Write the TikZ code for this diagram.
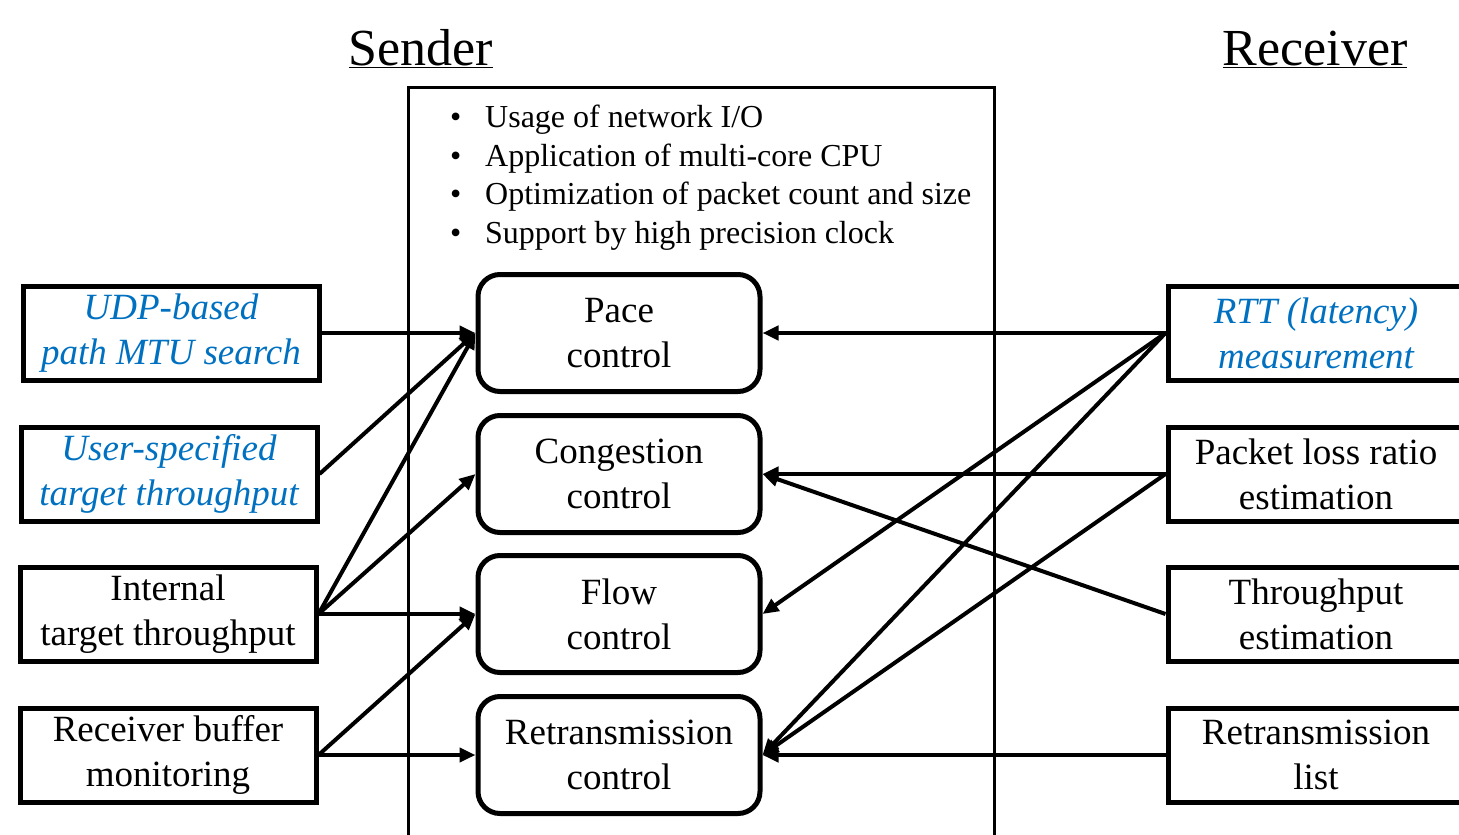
\documentclass[tikz,border=0pt]{standalone}
\usepackage{fontspec}
\setmainfont{Liberation Serif}
\usetikzlibrary{arrows.meta,positioning}
\definecolor{noteblue}{RGB}{0,112,192}
\tikzset{
  sidebox/.style={draw, line width=5pt, minimum width=296pt, minimum height=94pt,
    align=center, inner sep=0pt, font=\fontsize{37}{45}\selectfont},
  ctrlbox/.style={draw, line width=5pt, rounded corners=22pt, minimum width=282pt,
    minimum height=117pt, align=center, inner sep=0pt, font=\fontsize{37}{45}\selectfont},
  measured/.style={text=noteblue, font=\fontsize{37}{45}\selectfont\itshape},
  point/.style={anchor=west, inner sep=0pt, font=\fontsize{32}{38}\selectfont},
  heading/.style={anchor=base, inner sep=0pt, font=\fontsize{52}{60}\selectfont},
  arrow/.style={-{Triangle[length=16pt,width=14pt]}, line width=4pt},
}
\begin{document}
\begin{tikzpicture}[x=1pt,y=-1pt]
  \useasboundingbox (0,0) rectangle (1459,835);

  % headings
  \node [heading] (sender) at (421,65) {\underline{Sender}};
  \node [heading] (receiver) at (1315,65) {\underline{Receiver}};

  % sender frame
  \draw [line width=3pt] (408,87) rectangle (994,850);

  \foreach \txt [count=\i] in {Usage of network I/O, Application of multi-core CPU,
      Optimization of packet count and size, Support by high precision clock}
    \node [point] (b\i) at (485, {120+38.5*(\i-1)}) {\llap{\textbullet\hspace{24pt}}\txt};

  % control blocks
  \node [ctrlbox] (pace) at (619,333) {Pace\\control};
  \node [ctrlbox] (cong) at (619,474) {Congestion\\control};
  \node [ctrlbox] (flow) at (619,614) {Flow\\control};
  \node [ctrlbox] (retx) at (619,755) {Retransmission\\control};

  % sender side inputs
  \node [sidebox, measured] (mtu) at (171,333) {UDP-based\\path MTU search};
  \node [sidebox, measured] (user) at (169,474) {User-specified\\target throughput};
  \node [sidebox] (internal) at (168,614) {Internal\\target throughput};
  \node [sidebox] (rbuf) at (168,755) {Receiver buffer\\monitoring};

  % receiver side inputs
  \node [sidebox, measured] (rtt) at (1316,333) {RTT (latency)\\measurement};
  \node [sidebox] (loss) at (1316,474) {Packet loss ratio\\estimation};
  \node [sidebox] (thru) at (1316,614) {Throughput\\estimation};
  \node [sidebox] (rlist) at (1316,755) {Retransmission\\list};

  % sender connections
  \draw [arrow] (mtu.east) -- (pace.west);
  \draw [arrow] (user.east) -- (pace.west);
  \draw [arrow] (internal.east) -- (pace.west);
  \draw [arrow] (internal.east) -- (cong.west);
  \draw [arrow] (internal.east) -- (flow.west);
  \draw [arrow] (rbuf.east) -- (flow.west);
  \draw [arrow] (rbuf.east) -- (retx.west);

  % receiver connections
  \draw [arrow] (rtt.west) -- (pace.east);
  \draw [arrow] (rtt.west) -- (flow.east);
  \draw [arrow] (rtt.west) -- (retx.east);
  \draw [arrow] (loss.west) -- (cong.east);
  \draw [arrow] (loss.west) -- (retx.east);
  \draw [arrow] (thru.west) -- (cong.east);
  \draw [arrow] (rlist.west) -- (retx.east);
\end{tikzpicture}
\end{document}
